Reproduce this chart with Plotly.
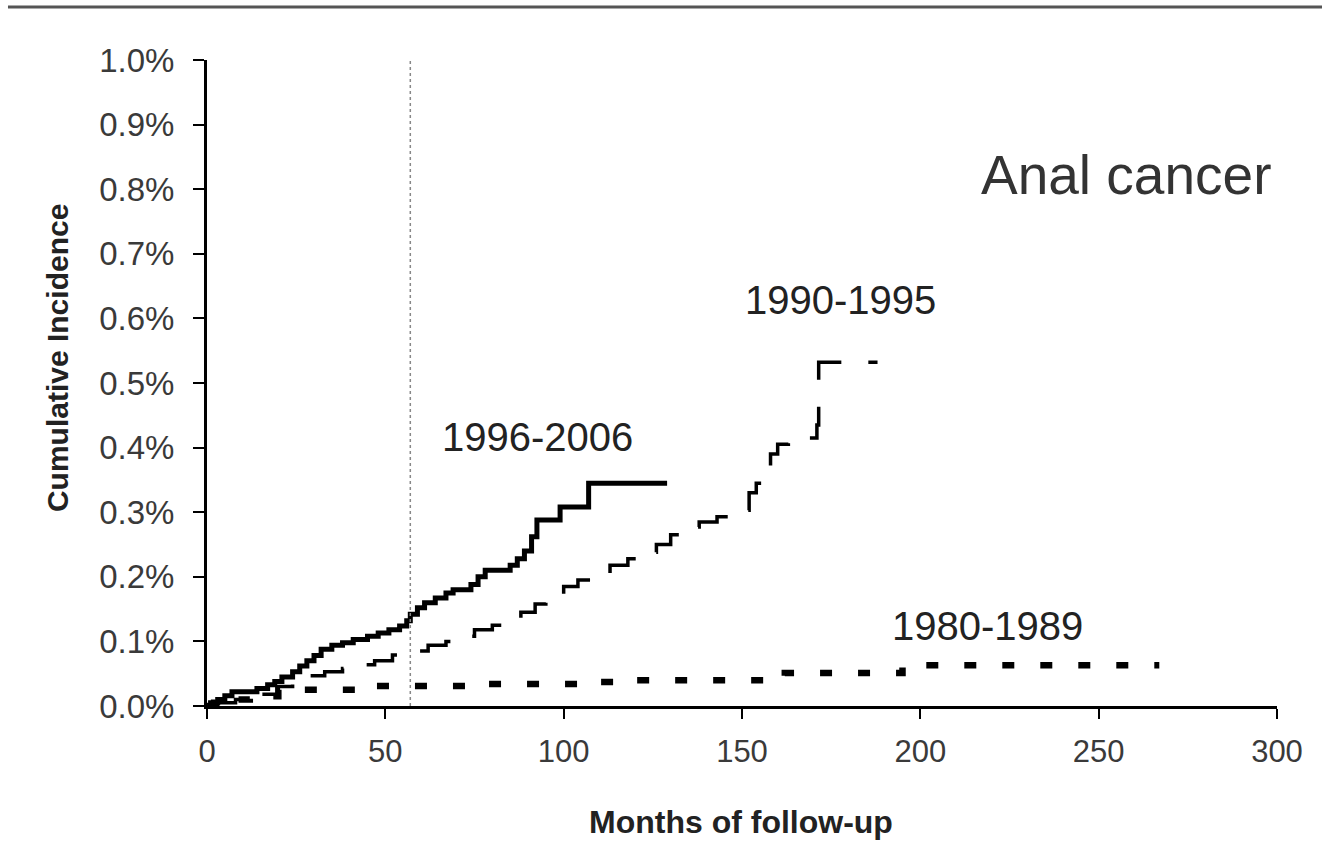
import plotly.graph_objects as go

# ---- data (months of follow-up, cumulative incidence in %) ----
months_1996 = [0, 1, 3, 5, 7, 14, 17, 19, 21, 24, 26, 28, 30, 32, 35, 38, 41, 45, 48, 51, 54,
               56, 57, 59, 61, 64, 67, 69, 74, 76, 78, 85, 87, 89, 91, 92.5, 99, 107, 129]
inc_1996 = [0, 0.005, 0.01, 0.016, 0.022, 0.027, 0.033, 0.038, 0.045, 0.053, 0.062, 0.07, 0.078,
            0.088, 0.094, 0.098, 0.103, 0.108, 0.113, 0.118, 0.124, 0.132, 0.142, 0.152, 0.16,
            0.167, 0.175, 0.18, 0.188, 0.2, 0.21, 0.218, 0.228, 0.24, 0.262, 0.288, 0.308, 0.345, 0.345]

months_1990 = [0, 3, 8, 14, 20, 24, 28, 33, 38, 43, 47, 52, 57, 62, 67, 71, 75, 80, 84, 88, 92,
               95, 100, 104, 108, 113, 118, 122, 126, 130, 133, 138, 143, 149, 152, 154, 156, 158,
               160, 163, 171, 171.5, 188]
inc_1990 = [0, 0.005, 0.01, 0.018, 0.03, 0.042, 0.047, 0.053, 0.058, 0.064, 0.07, 0.079, 0.085,
            0.094, 0.1, 0.108, 0.118, 0.125, 0.132, 0.145, 0.158, 0.17, 0.185, 0.195, 0.205,
            0.218, 0.228, 0.238, 0.25, 0.265, 0.277, 0.285, 0.293, 0.303, 0.33, 0.345, 0.36,
            0.39, 0.405, 0.415, 0.435, 0.532, 0.532]

months_1980 = [0, 2, 6, 12, 20, 42, 75, 108, 118, 162, 195, 267]
inc_1980 = [0, 0.005, 0.01, 0.015, 0.025, 0.031, 0.034, 0.037, 0.040, 0.051, 0.063, 0.063]

x_ticks = [0, 50, 100, 150, 200, 250, 300]
y_ticks = [0.0, 0.1, 0.2, 0.3, 0.4, 0.5, 0.6, 0.7, 0.8, 0.9, 1.0]
y_tick_labels = ["0.0%", "0.1%", "0.2%", "0.3%", "0.4%", "0.5%", "0.6%", "0.7%", "0.8%", "0.9%", "1.0%"]
landmark_month = 57

labels = ["1996-2006", "1990-1995", "1980-1989"]
label_x = [92.8, 177.5, 218.7]
label_y = [0.416, 0.628, 0.124]

FONT = "Liberation Sans, Arial, sans-serif"

fig = go.Figure()
fig.add_trace(go.Scatter(x=months_1980, y=inc_1980, mode="lines", showlegend=False,
                         line=dict(shape="hv", color="black", width=6.5, dash="12px,26px")))
fig.add_trace(go.Scatter(x=months_1990, y=inc_1990, mode="lines", showlegend=False,
                         line=dict(shape="hv", color="black", width=3.5, dash="40px,27px")))
fig.add_trace(go.Scatter(x=months_1996, y=inc_1996, mode="lines", showlegend=False,
                         line=dict(shape="hv", color="black", width=5)))

# landmark dotted line
fig.add_shape(type="line", xref="x", yref="y", x0=landmark_month, x1=landmark_month,
              y0=0, y1=1.02, line=dict(color="#888888", width=1.5, dash="dot"))
# top border line of the picture
fig.add_shape(type="line", xref="paper", yref="paper", x0=-0.186, x1=1.05,
              y0=1.082, y1=1.082, line=dict(color="#555555", width=3))

for t, lx, ly in zip(labels, label_x, label_y):
    fig.add_annotation(x=lx, y=ly, xref="x", yref="y", text=t, showarrow=False,
                       xanchor="center", yanchor="middle",
                       font=dict(family=FONT, size=40, color="#222222"))

fig.add_annotation(x=257.6, y=0.822, xref="x", yref="y", text="Anal cancer", showarrow=False,
                   xanchor="center", yanchor="middle",
                   font=dict(family=FONT, size=55, color="#333333"))

# axis titles
fig.add_annotation(x=0.499, y=-0.1796, xref="paper", yref="paper", text="<b>Months of follow-up</b>",
                   showarrow=False, xanchor="center", yanchor="middle",
                   font=dict(family=FONT, size=32, color="#222222"))
fig.add_annotation(x=-0.139, y=0.539, xref="paper", yref="paper", text="<b>Cumulative Incidence</b>",
                   showarrow=False, textangle=-90, xanchor="center", yanchor="middle",
                   font=dict(family=FONT, size=30, color="#222222"))

fig.update_layout(
    width=1322, height=861,
    margin=dict(l=207, r=45, t=60, b=155),
    paper_bgcolor="white", plot_bgcolor="white",
    font=dict(family=FONT, color="#333333"),
    xaxis=dict(range=[0, 300], tickvals=x_ticks, showline=True, linecolor="black", linewidth=3,
               ticks="outside", ticklen=10, tickwidth=2, tickcolor="black", showgrid=False,
               zeroline=False, tickfont=dict(size=31, color="#3a3a3a"), ticklabelstandoff=6),
    yaxis=dict(range=[0, 1.0], tickvals=y_ticks, ticktext=y_tick_labels,
               showline=True, linecolor="black", linewidth=3, ticks="outside", ticklen=11,
               tickwidth=2, tickcolor="black", showgrid=False, zeroline=False,
               tickfont=dict(size=33, color="#3a3a3a"), ticklabelstandoff=12),
)

fig.write_html("out.html")
